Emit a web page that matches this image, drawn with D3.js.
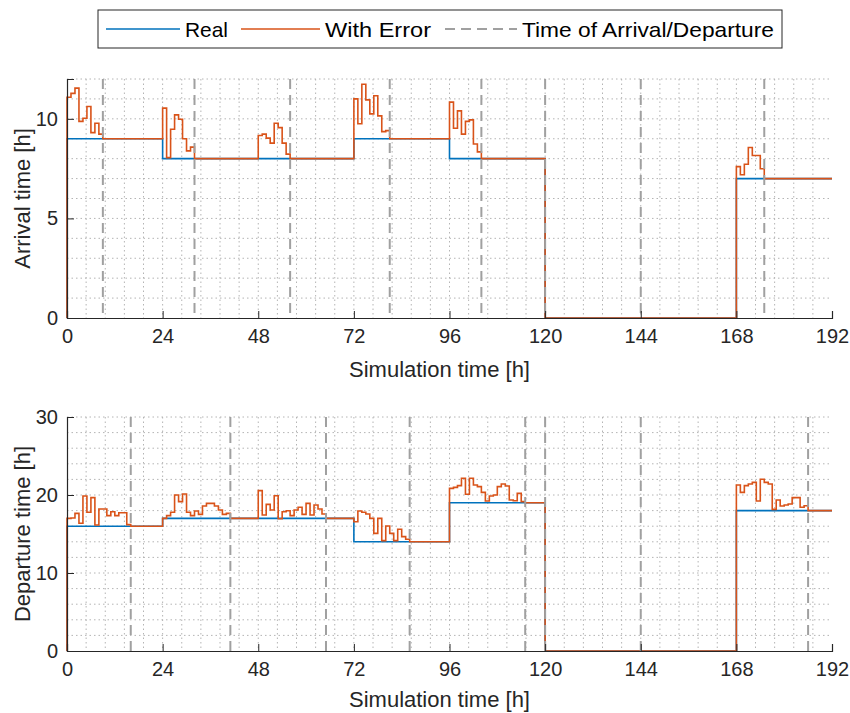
<!DOCTYPE html>
<html>
<head>
<meta charset="utf-8">
<script src="https://cdn.jsdelivr.net/npm/d3@7"></script>
<style>
  body { margin: 0; background: #fff; }
  svg { font-family: "Liberation Sans", Arial, sans-serif; }
  .tick text { fill: #262626; }
  .axis-label { fill: #262626; }
</style>
</head>
<body>
<svg width="850" height="713"></svg>
<script>
// day starts (hours) and tick labels
const dayStarts = [0, 24, 48, 72, 96, 120, 144, 168];
const xTicks = [0, 24, 48, 72, 96, 120, 144, 168, 192];
const arrivalTicks = [0, 5, 10];
const departureTicks = [0, 10, 20, 30];

// real arrival / departure time per day
const arrivalReal = [9, 8, 8, 9, 8, 0, 0, 7];
const departureReal = [16, 17, 17, 14, 19, 0, 0, 18];

// hourly estimates (with error) from day start until the real time
const arrivalError = [
  [11.08, 11.28, 11.54, 9.87, 10.03, 10.62, 9.31, 9.78, 9.23],
  [10.54, 8.05, 9.48, 10.2, 9.98, 9.0, 8.39, 8.58],
  [9.16, 9.23, 9.03, 8.78, 9.78, 9.56, 8.78, 8.23],
  [11.0, 9.75, 11.74, 10.95, 10.25, 11.16, 10.15, 9.36, 9.41],
  [10.84, 9.53, 10.4, 9.23, 9.87, 9.95, 8.74, 8.34],
  [],
  [],
  [7.6, 7.19, 7.72, 8.56, 8.16, 8.16, 7.49]
];
const departureError = [
  [17.0, 17.05, 17.65, 16.37, 19.87, 17.78, 19.66, 16.15, 18.2, 18.2, 17.35, 17.86, 17.35, 17.73, 17.73, 16.2],
  [17.0, 17.35, 17.78, 20.0, 19.15, 20.13, 17.78, 17.35, 17.95, 17.52, 18.59, 18.93, 18.93, 18.59, 18.08, 17.52, 17.65],
  [20.56, 17.44, 18.8, 18.08, 19.91, 16.95, 17.86, 17.99, 17.35, 18.08, 18.42, 17.52, 18.93, 17.44, 18.72, 18.2, 17.56],
  [16.58, 17.95, 17.78, 17.56, 17.0, 15.08, 17.0, 14.15, 16.03, 15.08, 14.15, 15.6, 14.66, 14.32],
  [20.85, 20.98, 21.2, 22.14, 20.09, 22.14, 21.28, 21.07, 20.34, 19.23, 19.87, 20.0, 21.07, 21.41, 21.15, 19.36, 19.27, 20.21, 19.15],
  [],
  [],
  [21.28, 20.34, 21.2, 21.41, 21.62, 19.23, 22.01, 21.62, 21.41, 18.16, 19.36, 18.59, 18.72, 18.85, 19.66, 19.66, 18.42, 18.63]
];

const svg = d3.select("svg");

const blue = "#0072bd";
const red = "#d95319";
const dashGray = "#a0a0a0";
const axisColor = "#262626";

const realSteps = real => {
  const pts = [[0, 0]];
  real.forEach((v, i) => pts.push([dayStarts[i], v]));
  pts.push([192, real[real.length - 1]]);
  return pts;
};

const errorSteps = (real, err) => {
  const pts = [[0, 0]];
  real.forEach((v, i) => {
    err[i].forEach((e, h) => pts.push([dayStarts[i] + h, e]));
    pts.push([dayStarts[i] + err[i].length, v]);
  });
  pts.push([192, real[real.length - 1]]);
  return pts;
};

const render = ({ top, innerHeight, yMax, yTicks, yMinor, yLabel, labelY, real, err }) => {
  const left = 67;
  const innerWidth = 765;

  const xScale = d3.scaleLinear().domain([0, 192]).range([0, innerWidth]);
  const yScale = d3.scaleLinear().domain([0, yMax]).range([innerHeight, 0]);

  const g = svg.append("g").attr("transform", `translate(${left},${top})`);

  // dotted grid (minor + major)
  g.append("g")
    .selectAll("line")
    .data(d3.range(1, 40).map(i => i * 4.8).filter(v => v <= 192.01))
    .enter()
    .append("line")
    .attr("x1", d => xScale(d))
    .attr("x2", d => xScale(d))
    .attr("y1", 0)
    .attr("y2", innerHeight)
    .attr("stroke", "#b4b4b4")
    .attr("stroke-dasharray", "1.5,3");

  g.append("g")
    .selectAll("line")
    .data(d3.range(yMinor, yMax + 0.001, yMinor))
    .enter()
    .append("line")
    .attr("x1", 0)
    .attr("x2", innerWidth)
    .attr("y1", d => yScale(d))
    .attr("y2", d => yScale(d))
    .attr("stroke", "#b4b4b4")
    .attr("stroke-dasharray", "1.5,3");

  const line = d3
    .line()
    .x(d => xScale(d[0]))
    .y(d => yScale(d[1]))
    .curve(d3.curveStepAfter);

  g.append("path")
    .attr("d", line(realSteps(real)))
    .attr("fill", "none")
    .attr("stroke", blue)
    .attr("stroke-width", 1.6);

  g.append("path")
    .attr("d", line(errorSteps(real, err)))
    .attr("fill", "none")
    .attr("stroke", red)
    .attr("stroke-width", 1.6);

  // time of arrival / departure
  g.append("g")
    .selectAll("line")
    .data(real.map((v, i) => dayStarts[i] + v))
    .enter()
    .append("line")
    .attr("x1", d => xScale(d))
    .attr("x2", d => xScale(d))
    .attr("y1", 0)
    .attr("y2", innerHeight)
    .attr("stroke", dashGray)
    .attr("stroke-width", 2)
    .attr("stroke-dasharray", "10,6");

  const xAxis = d3
    .axisBottom(xScale)
    .tickValues(xTicks)
    .tickSize(-7)
    .tickPadding(11);

  const yAxis = d3
    .axisLeft(yScale)
    .tickValues(yTicks)
    .tickSize(-7)
    .tickPadding(9);

  const xAxisG = g
    .append("g")
    .attr("transform", `translate(0,${innerHeight})`)
    .call(xAxis);
  const yAxisG = g.append("g").call(yAxis);

  [xAxisG, yAxisG].forEach(a => {
    a.selectAll(".domain").attr("stroke", axisColor).attr("stroke-width", 1.2);
    a.selectAll(".tick line").attr("stroke", axisColor);
    a.selectAll(".tick text").attr("font-size", 20);
  });
  xAxisG.selectAll(".tick text").attr("dy", "0.71em");

  xAxisG
    .append("text")
    .attr("class", "axis-label")
    .attr("x", innerWidth / 2 - 10)
    .attr("y", labelY)
    .attr("text-anchor", "middle")
    .attr("font-size", 22)
    .text("Simulation time [h]");

  yAxisG
    .append("text")
    .attr("class", "axis-label")
    .attr("x", -innerHeight / 2)
    .attr("y", -37)
    .attr("transform", "rotate(-90)")
    .attr("text-anchor", "middle")
    .attr("font-size", 22)
    .text(yLabel);
};

render({
  top: 79,
  innerHeight: 239,
  yMax: 12,
  yTicks: arrivalTicks,
  yMinor: 1,
  yLabel: "Arrival time [h]",
  labelY: 59,
  real: arrivalReal,
  err: arrivalError
});

render({
  top: 417,
  innerHeight: 234,
  yMax: 30,
  yTicks: departureTicks,
  yMinor: 2,
  yLabel: "Departure time [h]",
  labelY: 56,
  real: departureReal,
  err: departureError
});

// legend
const legend = svg.append("g").attr("transform", "translate(98,10)");
legend
  .append("rect")
  .attr("width", 684)
  .attr("height", 38)
  .attr("fill", "#fff")
  .attr("stroke", "#262626")
  .attr("stroke-width", 1);

const legendItems = [
  { label: "Real", color: blue, dash: null, x0: 8, x1: 82, w: 43 },
  { label: "With Error", color: red, dash: null, x0: 143, x1: 222, w: 106 },
  { label: "Time of Arrival/Departure", color: dashGray, dash: "10,6", x0: 347, x1: 419, w: 252 }
];

legendItems.forEach(d => {
  legend
    .append("line")
    .attr("x1", d.x0)
    .attr("x2", d.x1)
    .attr("y1", 19)
    .attr("y2", 19)
    .attr("stroke", d.color)
    .attr("stroke-width", d.dash ? 2 : 1.6)
    .attr("stroke-dasharray", d.dash);
  legend
    .append("text")
    .attr("x", d.x1 + 5)
    .attr("y", 26.5)
    .attr("font-size", 21)
    .attr("textLength", d.w)
    .attr("lengthAdjust", "spacingAndGlyphs")
    .attr("fill", "#000")
    .text(d.label);
});
</script>
</body>
</html>
